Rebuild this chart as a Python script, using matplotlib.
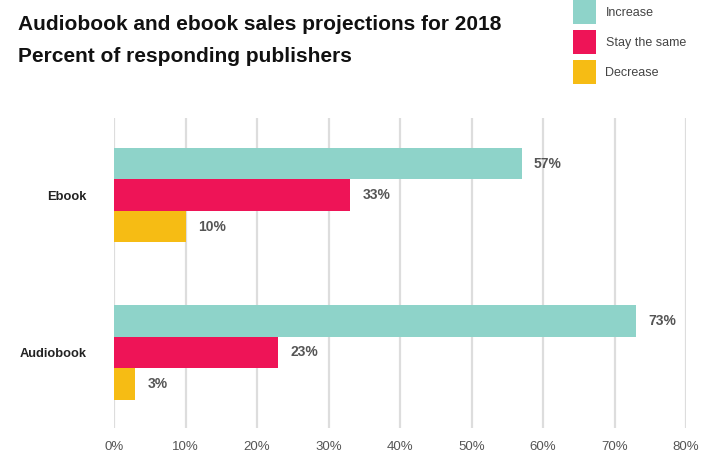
import matplotlib.pyplot as plt
import numpy as np

plt.rcParams['font.family'] = ['Liberation Sans', 'DejaVu Sans']

# Sales projection survey results (percent of publishers)
categories = ['Ebook', 'Audiobook']
series_names = ['Increase', 'Stay the same', 'Decrease']
increase = [57, 73]
stay_same = [33, 23]
decrease = [10, 3]
colors = ['#8ed3c9', '#ee1457', '#f6bc14']
x_ticks = [0, 10, 20, 30, 40, 50, 60, 70, 80]

fig = plt.figure(figsize=(7.07, 4.55), dpi=100)
ax = fig.add_axes([114 / 707, 27 / 455, 572 / 707, 310 / 455])

pos = np.arange(len(categories))
bar_h = 0.2
offsets = [-bar_h, 0, bar_h]
for vals, name, col, off in zip([increase, stay_same, decrease], series_names, colors, offsets):
    bars = ax.barh(pos + off, vals, height=bar_h, color=col, label=name, zorder=3)
    for b, v in zip(bars, vals):
        ax.annotate(f'{v}%', (b.get_width(), b.get_y() + b.get_height() / 2),
                    xytext=(9, 0), textcoords='offset points',
                    va='center', ha='left', fontsize=10, fontweight='bold', color='#555555')

ax.set_xlim(0, 80)
ax.set_ylim(1.48, -0.49)
ax.set_xticks(x_ticks)
ax.set_xticklabels([f'{t}%' for t in x_ticks], fontsize=9.5, color='#555555')
ax.set_yticks(pos)
ax.set_yticklabels(categories, fontsize=9.3, fontweight='bold', color='#222222')
ax.tick_params(axis='x', length=0, pad=9)
ax.tick_params(axis='y', length=0, pad=20)
ax.grid(axis='x', color='#dddddd', linewidth=1.6, zorder=0)
for s in ax.spines.values():
    s.set_visible(False)

fig.text(18 / 707, 1 - 25 / 455, 'Audiobook and ebook sales projections for 2018',
         fontsize=15, fontweight='bold', va='center', ha='left', color='#111111')
fig.text(18 / 707, 1 - 56 / 455, 'Percent of responding publishers',
         fontsize=15, fontweight='bold', va='center', ha='left', color='#111111')

fig.legend(loc='upper left', bbox_to_anchor=(573 / 707, 1.0), frameon=False,
           fontsize=9, handlelength=1.85, handleheight=2.55, labelspacing=0.5,
           handletextpad=0.75, borderpad=0, borderaxespad=0, labelcolor='#444444')

fig.savefig('out.png', dpi=100)
